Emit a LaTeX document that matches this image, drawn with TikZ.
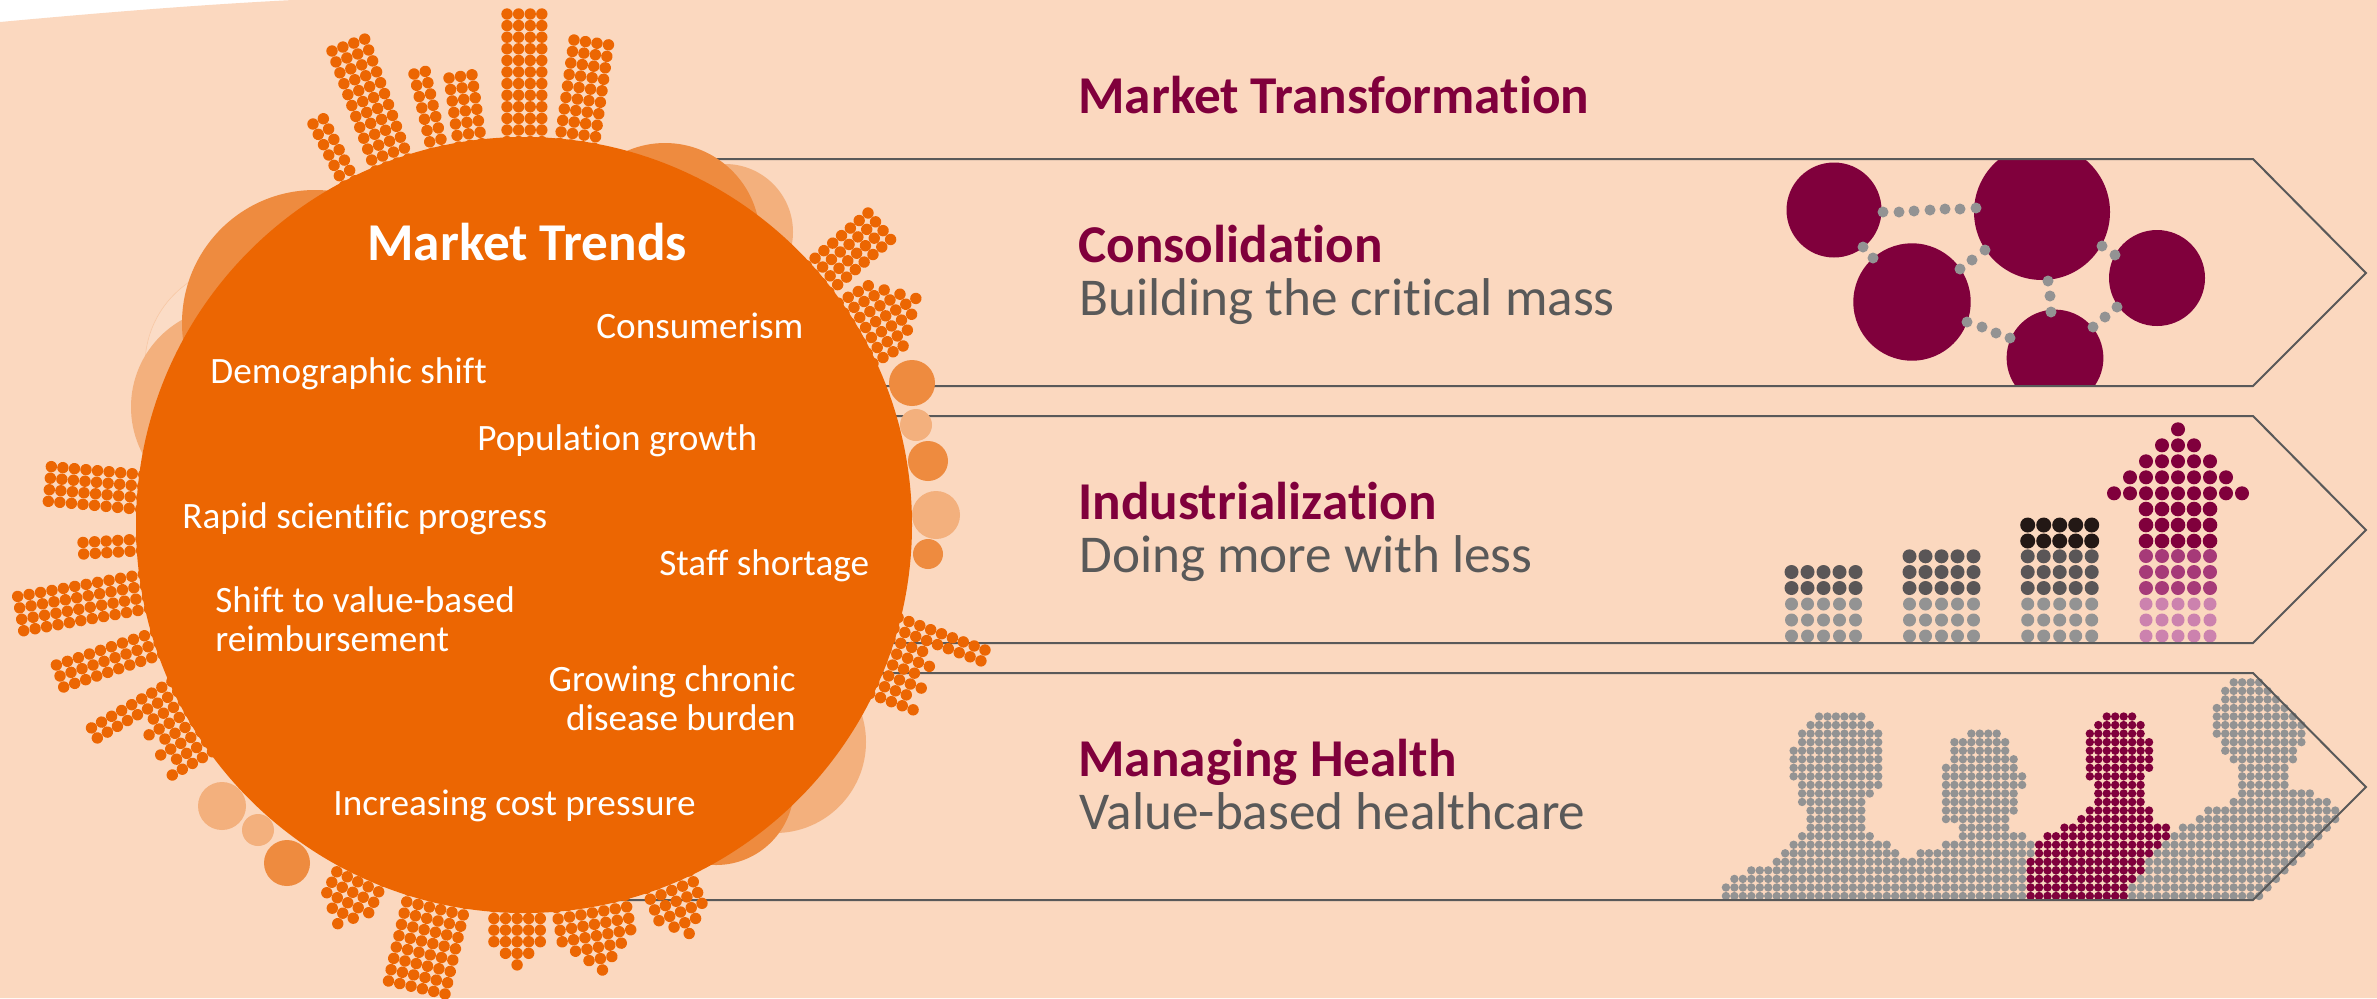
\documentclass[tikz,border=0pt]{standalone}
\usepackage{fontspec}
\setmainfont{Carlito}[Ligatures=NoCommon]
\definecolor{peach}{HTML}{FBD8BF}
\definecolor{orangemain}{HTML}{EC6602}
\definecolor{orangedark}{HTML}{EE8B3F}
\definecolor{orangelight}{HTML}{F3B07D}
\definecolor{orangefaint}{HTML}{FBDCC6}
\definecolor{maroon}{HTML}{80003C}
\definecolor{linegrey}{HTML}{595959}
\definecolor{dotgrey}{HTML}{939393}
\definecolor{dotdark}{HTML}{5A5657}
\definecolor{dotblack}{HTML}{231815}
\definecolor{pinkmid}{HTML}{A63A78}
\definecolor{pinklight}{HTML}{CC82AE}
\tikzset{
  x=.5pt,y=-.5pt,
  arrowline/.style={draw=linegrey,line width=1pt,line join=miter},
  trendtext/.style={text=white,inner sep=0pt,anchor=base west,font=\fontsize{18.6}{22}\selectfont},
  headtext/.style={text=maroon,inner sep=0pt,anchor=base west,font=\fontsize{26.6}{32}\selectfont\bfseries},
  subtext/.style={text=linegrey,inner sep=0pt,anchor=base west,font=\fontsize{26.6}{32}\selectfont},
}
\newcommand\bldg[5]{%
  \begin{scope}[shift={(#1,#2)},rotate=-#3]
    \foreach \h [count=\i from 0] in {#5} {
      \foreach \j in {1,...,\h} {
        \fill[orangemain] ({\i*11.6},{(#4-\j)*11.6}) circle (5.7);
      }
    }
  \end{scope}}
\newcommand\personrows[3]{%
  \foreach \k/\ca/\cb in {#1} {
    \foreach \c in {\ca,...,\cb} {
      \fill[#2] ({1725.9+8.463*\c},{896-8.547*\k}) circle (#3);
    }
  }}
\begin{document}
\begin{tikzpicture}
\useasboundingbox (0,0) rectangle (2377,998);
\fill[white] (0,0) rectangle (2377,998);
\fill[peach] (0,22) .. controls (98,13) and (195,5) .. (293,0) -- (2377,0) -- (2377,998) -- (0,998) -- cycle;

% people (under the arrow line)
\personrows{21/11/16,20/10/17,19/9/18,18/9/18,17/8/18,16/8/18,15/8/18,14/8/18,13/9/18,12/9/17,11/9/16,10/10/16,9/10/16,8/10/16,7/9/17,6/8/19,5/7/20,
19/29/32,18/27/33,17/27/33,16/27/34,15/26/34,14/26/35,13/26/35,12/26/34,11/26/34,10/26/34,9/26/33,8/28/33,7/28/35,6/26/36,5/23/36,
25/60/63,24/59/64,23/59/65,22/58/66,21/58/67,20/58/68,19/58/68,18/59/68,17/59/67,16/60/67,15/61/66,14/61/66,13/61/66,12/61/69,11/60/71,10/57/72,9/56/72,8/54/71,7/52/70,6/50/69,5/48/68,
4/6/67,3/3/66,2/1/65,1/0/64,0/0/63}{dotgrey}{4.2}
\personrows{21/45/48,20/44/49,19/43/49,18/43/50,17/43/50,16/43/50,15/43/50,14/43/49,13/44/49,12/44/49,11/44/49,10/43/50,9/42/50,8/40/52,7/38/52,6/37/51,5/37/50,4/36/49,3/36/49,2/36/48,1/36/47,0/36/47}{maroon}{4.2}

% consolidation graphic
\begin{scope}
  \clip (1700,159) rectangle (2253,386);
  \fill[maroon] (1834,210) circle (47.5);
  \fill[maroon] (2042,212) circle (68);
  \fill[maroon] (1912,302) circle (58.7);
  \fill[maroon] (2157,278) circle (48);
  \fill[maroon] (2055,358) circle (48.4);
\end{scope}
\foreach \px/\py in {1883/212,1899/212,1914/211,1930/210,1945/209,1960/209,1976/208,
  1863/247,1873/258,1960/269,1972/260,1985/250,2102/246,2115/255,2048/281,2050/296,2051/312,
  1967/322,1982/327,1996/333,2010/338,2093/327,2105/317,2117/307}
  \fill[dotgrey] (\px,\py) circle (5.5);

% industrialization graphic
\foreach \bx in {1791.5,1909.5,2027.7} {
  \foreach \m in {0,...,4} {
    \foreach \k in {0,1,2} \fill[dotgrey] ({\bx+16*\m},{636-16*\k}) circle (6.5);
    \foreach \k in {3,4} \fill[dotdark] ({\bx+16*\m},{636-16*\k}) circle (7);
  }
}
\foreach \bx in {1909.5,2027.7} \foreach \m in {0,...,4} \fill[dotdark] ({\bx+16*\m},556.3) circle (7);
\foreach \m in {0,...,4} \foreach \ry in {541,525} \fill[dotblack] ({2027.7+16*\m},\ry) circle (7.5);
\foreach \m in {0,...,4} {
  \foreach \k in {0,1,2} \fill[pinklight] ({2146+16*\m},{636-16*\k}) circle (6.5);
  \foreach \k in {3,4,5} \fill[pinkmid] ({2146+16*\m},{636-16*\k}) circle (7);
  \foreach \ry in {541,525,509} \fill[maroon] ({2146+16*\m},\ry) circle (7.3);
}
\foreach \ry/\ma/\mb in {493.3/-2/6,477.3/-1/5,461.3/0/4,445.3/1/3,429.3/2/2}
  \foreach \m in {\ma,...,\mb} \fill[maroon] ({2146+16*\m},\ry) circle (7);

% arrows
\draw[arrowline] (640,159) -- (2253,159) -- (2366,273) -- (2253,386) -- (800,386);
\draw[arrowline] (800,416) -- (2253,416) -- (2366,530) -- (2253,643) -- (800,643);
\draw[arrowline] (800,673) -- (2253,673) -- (2366,787) -- (2253,900) -- (500,900);

% soft circles
\fill[orangefaint] (245,365) circle (100);
\draw[orangelight!40!peach,line width=.3pt] (245,365) circle (100);
\fill[orangelight] (231,407) circle (100);
\fill[orangedark] (315,323) circle (133);
\fill[orangelight] (725,232) circle (68);
\fill[orangedark] (665,238) circle (95);
\fill[orangelight] (775,742) circle (91);
\fill[orangedark] (716,787) circle (78);
\fill[orangedark] (912,383) circle (23);
\fill[orangelight] (916,425) circle (16);
\fill[orangedark] (928,461) circle (20);
\fill[orangelight] (936,515) circle (24);
\fill[orangedark] (928,554) circle (15);
\fill[orangelight] (222,806) circle (24);
\fill[orangelight] (258,830) circle (16);
\fill[orangedark] (287,863) circle (23);

% buildings
\bldg{313}{124}{-27}{7}{7,7}
\bldg{332}{51}{-20}{12}{12,12,12,12}
\bldg{414}{74}{-13}{8}{8,8}
\bldg{449}{78}{-8}{7}{7,7,7}
\bldg{507}{14}{0}{12}{12,12,12,12}
\bldg{574}{40}{8}{10}{10,10,10,10}
\bldg{868}{213}{49.5}{8}{8,8,8,8}
\bldg{868.3}{285.7}{60}{4}{4,5,6,7,6,5,4}
\bldg{985}{650}{110.5}{9}{9,9,4,5,4,5,4,5}
\bldg{702}{903.3}{158}{4}{4,5,6,5,4}
\bldg{630.7}{929.7}{170}{4}{4,5,6,7,6,5,4}
\bldg{540.3}{941.7}{180}{4}{4,5,6,5,4}
\bldg{445}{994}{193}{9}{9,9,9,9,9,9}
\bldg{368.7}{912.7}{205.5}{4}{4,5,6,5,4}
\bldg{172.3}{775}{-120}{5}{5,4,5,4,5,4,9,9}
\bldg{63.7}{687}{-108.4}{10}{10,10,10}
\bldg{23.7}{630.7}{-100}{12}{12,12,12,12}
\bldg{83.7}{554}{-93.3}{6}{6,6}
\bldg{48.3}{501.3}{-85}{9}{9,9,9,9}

% main circle
\fill[orangemain] (524,525) circle (388);

% trend texts
\node[trendtext,font=\fontsize{26.6}{32}\selectfont\bfseries] (mt) at (367,260) {Market Trends};
\node[trendtext] (t1) at (596,338) {Consumerism};
\node[trendtext] (t2) at (210,383) {Demographic shift};
\node[trendtext] (t3) at (477,450) {Population growth};
\node[trendtext] (t4) at (182,528) {Rapid scientific progress};
\node[trendtext] (t5) at (659,575) {Staff shortage};
\node[trendtext] (t6) at (215,612) {Shift to value-based};
\node[trendtext] (t7) at (215,651) {reimbursement};
\node[trendtext,anchor=base east] (t8) at (796,691) {Growing chronic};
\node[trendtext,anchor=base east] (t9) at (796,730) {disease burden};
\node[trendtext] (t10) at (333,815) {Increasing cost pressure};

% right texts
\node[headtext] (h0) at (1078,113) {Market Transformation};
\node[headtext] (h1) at (1078,262) {Consolidation};
\node[subtext] (s1) at (1079,315) {Building the critical mass};
\node[headtext] (h2) at (1078,519) {Industrialization};
\node[subtext] (s2) at (1079,572) {Doing more with less};
\node[headtext] (h3) at (1078,776) {Managing Health};
\node[subtext] (s3) at (1079,829) {Value-based healthcare};
\end{tikzpicture}
\end{document}
